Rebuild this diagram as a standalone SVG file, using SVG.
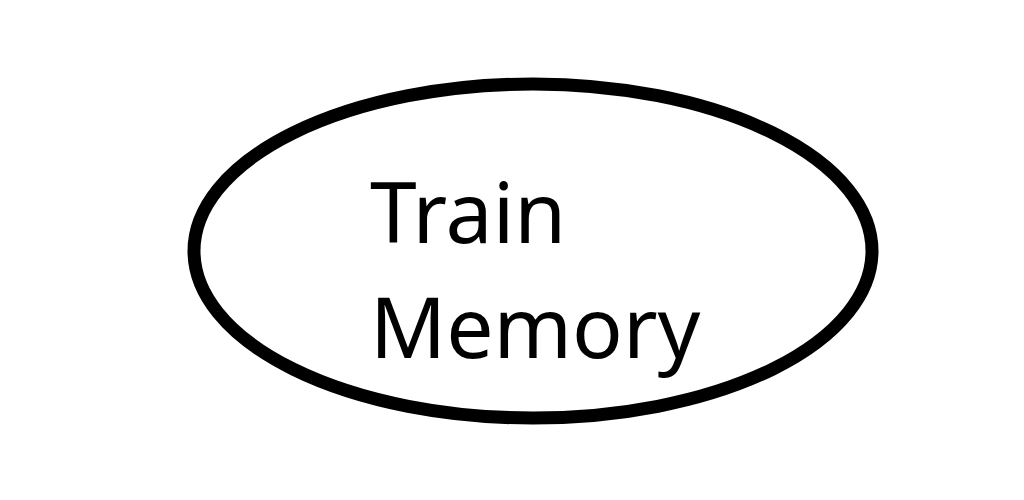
<svg xmlns="http://www.w3.org/2000/svg" width="1024" height="500" viewBox="0 0 1024 500">
<style>
.node-shape{fill:#ffffff;stroke:#000000;stroke-width:13}
.label{font-family:"Noto Sans","Open Sans",sans-serif;font-size:84px;fill:#000000}
</style>
<rect width="1024" height="500" fill="#ffffff"/>
<g id="train-memory">
<ellipse class="node-shape" cx="533" cy="251" rx="339" ry="167"/>
<text class="label" x="370" y="243">Train</text>
<text class="label" x="370" y="358">Memory</text>
</g>
<g id="connectors"></g>
</svg>
